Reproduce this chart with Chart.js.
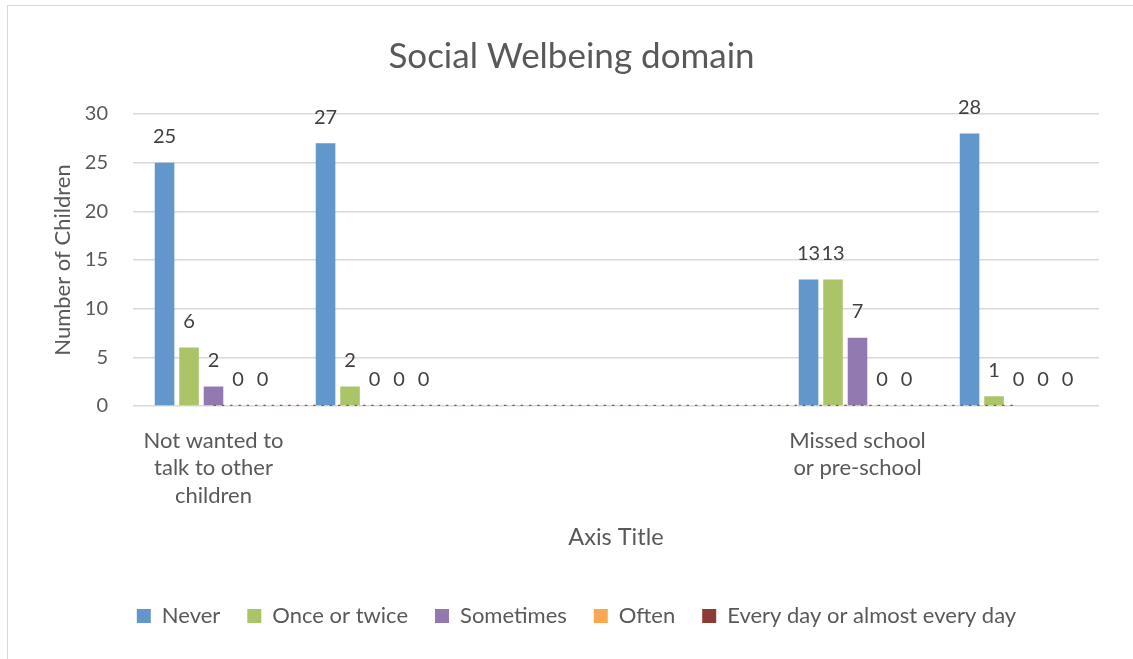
<!DOCTYPE html>
<html>
<head>
<meta charset="utf-8">
<script src="https://cdn.jsdelivr.net/npm/chart.js@4.4.1/dist/chart.umd.min.js"></script>
<style>
  html, body { margin: 0; padding: 0; background: #ffffff; overflow: hidden; }
  #wrap { position: relative; width: 1133px; height: 659px; }
  #frame { position: absolute; left: 7px; top: 5px; width: 1140px; height: 700px; border: 1px solid #d9d9d9; box-sizing: border-box; pointer-events: none; }
  canvas { position: absolute; left: 0; top: 0; }
</style>
</head>
<body>
<div id="wrap">
  <div id="frame"></div>
  <canvas id="c" width="1133" height="659"></canvas>
</div>
<script>
// ---- data ----
const categories = [
  ["Not wanted to", "talk to other", "children"],
  "",
  "",
  "",
  ["Missed school", "or pre-school"],
  ""
];
const seriesNames = ["Never", "Once or twice", "Sometimes", "Often", "Every day or almost every day"];
const never       = [25, 27, null, null, 13, 28];
const onceOrTwice = [6, 2, null, null, 13, 1];
const sometimes   = [2, 0, null, null, 7, 0];
const often       = [0, 0, null, null, 0, 0];
const everyDay    = [0, 0, null, null, 0, 0];
const everyDayTrend = [0, 0, 0, 0, 0, 0];
const yTicks = [0, 5, 10, 15, 20, 25, 30];

const colors = ["#6197CB", "#ABC468", "#9279B0", "#FAA752", "#8E3A36"];
const textGray = "#595959";
const FONT = "Lato";

const barLabelPlugin = {
  id: "barLabels",
  afterDatasetsDraw(chart) {
    const ctx = chart.ctx;
    ctx.save();
    ctx.font = "20px " + FONT;
    ctx.fillStyle = "#404040";
    ctx.textAlign = "center";
    ctx.textBaseline = "middle";
    chart.data.datasets.forEach((ds, i) => {
      if (ds.type !== "bar") return;
      const meta = chart.getDatasetMeta(i);
      meta.data.forEach((el, j) => {
        const v = ds.data[j];
        if (v === null || v === undefined) return;
        ctx.fillText(String(v), el.x, el.y - 26);
      });
    });
    ctx.restore();
  }
};

// nudges the legend a little to the right, as in the original
const legendShiftPlugin = {
  id: "legendShift",
  beforeDraw(chart) {
    if (chart.legend && !chart.legend._shifted) {
      chart.legend.left += 5;
      chart.legend.right += 5;
      chart.legend._shifted = true;
    }
  }
};

const valueSets = [never, onceOrTwice, sometimes, often, everyDay];
const datasets = valueSets.map((vals, i) => ({
  type: "bar",
  label: seriesNames[i],
  data: vals,
  backgroundColor: colors[i],
  borderWidth: 0,
  categoryPercentage: 0.76,
  barPercentage: 0.8,
  order: 1
}));
datasets.push({
  type: "line",
  label: "trend",
  data: everyDayTrend,
  borderColor: "#B8433A",
  borderWidth: 2.5,
  borderDash: [2.5, 5.8],
  pointRadius: 0,
  fill: false,
  order: 0
});

function build() {
  Chart.defaults.font.family = FONT;
  new Chart(document.getElementById("c"), {
    data: { labels: categories, datasets: datasets },
    options: {
      responsive: false,
      animation: false,
      layout: { padding: { left: 10, right: 0, top: 0, bottom: 22 } },
      plugins: {
        title: {
          display: true,
          text: "Social Welbeing domain",
          color: textGray,
          font: { size: 35, weight: "normal", family: FONT },
          padding: { top: 36, bottom: 36 }
        },
        legend: {
          position: "bottom",
          labels: {
            boxWidth: 14,
            boxHeight: 14,
            padding: 27,
            color: textGray,
            font: { size: 22, family: FONT },
            filter: (item) => item.text !== "trend"
          }
        },
        tooltip: { enabled: false }
      },
      scales: {
        x: {
          grid: { display: false },
          border: { display: false },
          ticks: {
            autoSkip: false,
            maxRotation: 0,
            color: textGray,
            font: { size: 22, family: FONT, lineHeight: 1.25 },
            padding: 13
          },
          title: {
            display: true,
            text: "Axis Title",
            color: textGray,
            font: { size: 23.5, family: FONT },
            padding: { top: 0, bottom: 26.9 }
          },
          afterFit(scale) { scale.height = 172; }
        },
        y: {
          min: 0,
          max: 30,
          afterBuildTicks(scale) { scale.ticks = yTicks.map(v => ({ value: v })); },
          grid: { color: "#d9d9d9", lineWidth: 1.5, drawTicks: false },
          border: { display: false },
          ticks: {
            color: textGray,
            font: { size: 20, family: FONT },
            padding: 25
          },
          title: {
            display: true,
            text: "Number of Children",
            color: textGray,
            font: { size: 22, family: FONT },
            padding: { top: 39.8, bottom: 0 }
          },
          afterFit(scale) { scale.width = 123; }
        },
        y2: {
          position: "right",
          display: true,
          grid: { display: false },
          border: { display: false },
          ticks: { display: false },
          afterFit(scale) { scale.width = 34; }
        }
      }
    },
    plugins: [barLabelPlugin, legendShiftPlugin]
  });
}

if (document.fonts && document.fonts.load) {
  document.fonts.load("20px " + FONT).then(build, build);
} else {
  build();
}
</script>
</body>
</html>
